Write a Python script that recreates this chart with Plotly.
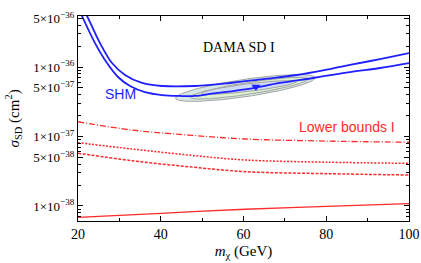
import numpy as np
import plotly.graph_objects as go

# ---------------- data ----------------
# SHM (DAMA) curves, blue
shm_upper_m = [20, 22.18, 25.32, 28.22, 31.36, 35.47, 40.3, 48.28, 56.74, 64.71, 72.93, 80.9, 85.74, 92.99, 100]
shm_upper_s = [9.2e-36, 5.42e-36, 2.21e-36, 1.14e-36, 7.67e-37, 5.89e-37, 5.33e-37, 5.33e-37,
               5.89e-37, 6.71e-37, 7.67e-37, 9.35e-37, 1.07e-36, 1.30e-36, 1.59e-36]
shm_lower_m = [20, 20.97, 24.11, 27.01, 29.67, 32.57, 36.19, 40.3, 44.65, 48.28, 52.63, 60.85,
               68.82, 76.8, 85.74, 92.99, 100]
shm_lower_s = [7.4e-36, 5.42e-36, 2.21e-36, 1.14e-36, 7.18e-37, 5.33e-37, 4.36e-37, 3.95e-37,
               3.83e-37, 3.83e-37, 4.16e-37, 4.82e-37, 5.89e-37, 6.95e-37, 8.47e-37, 9.68e-37, 1.14e-36]

# best-fit marker
best_m = [63.0]
best_s = [5.2e-37]

# DAMA contours: left tip (m, sigma), right tip (m, sigma), half thickness (decades)
contour_names = ["outer", "middle", "inner"]
contour_tipL_m = [43.6, 47.1, 49.9]
contour_tipL_s = [3.55e-37, 3.66e-37, 4.19e-37]
contour_tipR_m = [77.3, 75.7, 72.8]
contour_tipR_s = [7.02e-37, 6.71e-37, 6.14e-37]
contour_half_dec = [0.125, 0.085, 0.055]
contour_fill = ["#d6e9e4", "#def2cf", "#d0dcf7"]

# Lower bounds I (red)
lb_m = [20, 33, 46.6, 60.4, 80, 100]
lb_dashdot = [1.63e-37, 1.24e-37, 1.05e-37, 9.2e-38, 8.6e-38, 8.26e-38]
lb_dotted = [8.15e-38, 6.61e-38, 5.42e-38, 4.59e-38, 4.27e-38, 4.11e-38]
lb_dashed = [5.75e-38, 4.49e-38, 3.68e-38, 3.12e-38, 2.92e-38, 2.79e-38]
lb_solid_m = [20, 40, 60.4, 80, 100]
lb_solid = [6.87e-39, 7.85e-39, 8.97e-39, 9.89e-39, 1.08e-38]

x_ticks = [20, 40, 60, 80, 100]
x_minor = [30, 50, 70, 90]
y_ticks = [5e-36, 1e-36, 5e-37, 1e-37, 5e-38, 1e-38]
y_ticktext = ["5×10<sup>−36</sup>", "1×10<sup>−36</sup>", "5×10<sup>−37</sup>",
              "1×10<sup>−37</sup>", "5×10<sup>−38</sup>", "1×10<sup>−38</sup>"]

# ---------------- layout geometry ----------------
W, H = 421, 263
ML, MR, MT, MB = 78, 12, 16, 42
x_range = [20, 100]
y_range_log = [-38.216, -35.266]
pw, ph = W - ML - MR, H - MT - MB

SERIF = "Liberation Serif, Times New Roman, serif"
SANS = "Liberation Sans, Arial, sans-serif"
BLUE = "#1f1fff"
RED = "#ff2a2a"

fig = go.Figure()

# --- contours as rotated ellipses (computed in plot-pixel space) ---
def to_px(m, logs):
    return ((np.asarray(m) - x_range[0]) / (x_range[1] - x_range[0]) * pw,
            (np.asarray(logs) - y_range_log[0]) / (y_range_log[1] - y_range_log[0]) * ph)

def from_px(px, py):
    m = x_range[0] + px / pw * (x_range[1] - x_range[0])
    lg = y_range_log[0] + py / ph * (y_range_log[1] - y_range_log[0])
    return m, 10 ** lg

t = np.linspace(0, 2 * np.pi, 200)
for i in range(len(contour_names)):
    x1, y1 = to_px(contour_tipL_m[i], np.log10(contour_tipL_s[i]))
    x2, y2 = to_px(contour_tipR_m[i], np.log10(contour_tipR_s[i]))
    cx, cy = (x1 + x2) / 2, (y1 + y2) / 2
    a = np.hypot(x2 - x1, y2 - y1) / 2
    ang = np.arctan2(y2 - y1, x2 - x1)
    b = contour_half_dec[i] / (y_range_log[1] - y_range_log[0]) * ph
    ex = cx + a * np.cos(t) * np.cos(ang) - b * np.sin(t) * np.sin(ang)
    ey = cy + a * np.cos(t) * np.sin(ang) + b * np.sin(t) * np.cos(ang)
    em, es = from_px(ex, ey)
    fig.add_trace(go.Scatter(x=em, y=es, mode="lines", fill="toself",
                             fillcolor=contour_fill[i],
                             line=dict(color="#a3a3a3", width=1),
                             hoverinfo="skip", showlegend=False))

# --- red lower bounds ---
fig.add_trace(go.Scatter(x=lb_m, y=lb_dashdot, mode="lines", line_shape="spline",
                         line=dict(color=RED, width=1.3, dash="6px,2px,1px,2px"), showlegend=False))
fig.add_trace(go.Scatter(x=lb_m, y=lb_dotted, mode="lines", line_shape="spline",
                         line=dict(color=RED, width=1.5, dash="2px,1.5px"), showlegend=False))
fig.add_trace(go.Scatter(x=lb_m, y=lb_dashed, mode="lines", line_shape="spline",
                         line=dict(color=RED, width=1.5, dash="3px,1.5px"), showlegend=False))
fig.add_trace(go.Scatter(x=lb_solid_m, y=lb_solid, mode="lines", line_shape="spline",
                         line=dict(color=RED, width=1.3), showlegend=False))

# --- blue SHM curves ---
fig.add_trace(go.Scatter(x=shm_upper_m, y=shm_upper_s, mode="lines", line_shape="spline",
                         line=dict(color=BLUE, width=1.8), showlegend=False))
fig.add_trace(go.Scatter(x=shm_lower_m, y=shm_lower_s, mode="lines", line_shape="spline",
                         line=dict(color=BLUE, width=1.8), showlegend=False))
fig.add_trace(go.Scatter(x=best_m, y=best_s, mode="markers",
                         marker=dict(symbol="triangle-down", size=8, color=BLUE,
                                     line=dict(width=0)), showlegend=False))

# --- text labels ---
fig.add_annotation(x=58.9, y=np.log10(1.9e-36), text="DAMA SD I", showarrow=False,
                   font=dict(family=SERIF, size=14, color="black"))
fig.add_annotation(x=30.2, y=np.log10(4.07e-37), text="SHM", showarrow=False,
                   font=dict(family=SANS, size=14, color=BLUE))
fig.add_annotation(x=85.0, y=np.log10(1.35e-37), text="Lower bounds I", showarrow=False,
                   font=dict(family=SANS, size=14, color=RED))

# y title
fig.add_annotation(xref="paper", yref="paper", x=-65 / pw, y=0.5, xanchor="center", yanchor="middle",
                   text="<i>σ</i><sub>SD</sub> (cm<sup>2</sup>)", textangle=-90, showarrow=False,
                   font=dict(family=SERIF, size=15, color="black"))

y_minor = []
for e in range(-39, -35):
    for k in range(2, 10):
        v = k * 10.0 ** e
        if v not in y_ticks:
            y_minor.append(v)

fig.update_layout(
    template="none",
    width=W, height=H, margin=dict(l=ML, r=MR, t=MT, b=MB, autoexpand=False),
    paper_bgcolor="white", plot_bgcolor="white", showlegend=False,
    xaxis=dict(range=x_range, tickvals=x_ticks, ticks="inside", ticklen=5, tickwidth=1,
               tickcolor="black", showgrid=False, zeroline=False, showline=True,
               linecolor="black", linewidth=1.2, mirror="allticks", automargin=False,
               tickfont=dict(family=SERIF, size=14, color="black"),
               minor=dict(tickvals=x_minor, ticks="inside", ticklen=3, tickcolor="black", showgrid=False),
               title=dict(text="<i>m</i><sub>χ</sub> (GeV)", standoff=4,
                          font=dict(family=SERIF, size=15, color="black"))),
    yaxis=dict(type="log", range=y_range_log, tickvals=y_ticks, ticktext=y_ticktext,
               ticks="inside", ticklen=5, tickwidth=1, tickcolor="black",
               showgrid=False, zeroline=False, showline=True, linecolor="black",
               linewidth=1.2, mirror="allticks", automargin=False,
               tickfont=dict(family=SERIF, size=13, color="black"),
               minor=dict(tickvals=y_minor, ticks="inside", ticklen=3, tickcolor="black", showgrid=False)),
)

fig.write_html("out.html", config={"displayModeBar": False},
               post_script="document.body.style.margin='0px';document.body.style.overflow='hidden';")
